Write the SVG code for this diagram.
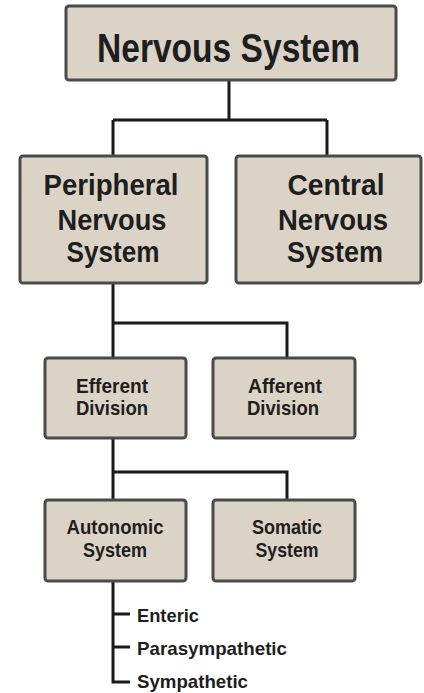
<svg xmlns="http://www.w3.org/2000/svg" width="424" height="693" viewBox="0 0 424 693">
<style>
.box{fill:#dbd3c6;stroke:#4a4a4a;stroke-width:3}
.sh{fill:#c8c8c8}
.t{font-family:"Liberation Sans",Arial,sans-serif;font-weight:bold;fill:#1e1e1e;text-anchor:middle}
.l{font-family:"Liberation Sans",Arial,sans-serif;font-weight:bold;fill:#1e1e1e}
.c{fill:none;stroke:#1a1a1a;stroke-width:3}
</style>
<rect width="424" height="693" fill="#fff"/>
<g id="connectors">
<path class="c" d="M229 80V120M113 120H327M113 120V155M327 120V155"/>
<path class="c" d="M113 283V323H287V357M113 323V357"/>
<path class="c" d="M113 438V472H287V499M113 472V499"/>
<path class="c" d="M113 581V682H130M113 614H130M113 647H130"/>
</g>
<g id="n-nervous">
<rect class="box" x="66" y="6" width="330" height="74" rx="3"/>
<text class="t" x="228.5" y="62" font-size="40" textLength="263" lengthAdjust="spacingAndGlyphs">Nervous System</text>
</g>
<g id="n-peripheral">
<rect class="box" x="20" y="156" width="187" height="127" rx="3"/>
<text class="t" x="111" y="195" font-size="29" textLength="135" lengthAdjust="spacingAndGlyphs">Peripheral</text>
<text class="t" x="112" y="230" font-size="29" textLength="109" lengthAdjust="spacingAndGlyphs">Nervous</text>
<text class="t" x="113" y="262" font-size="29" textLength="93" lengthAdjust="spacingAndGlyphs">System</text>
</g>
<g id="n-central">
<rect class="box" x="236" y="156" width="185" height="127" rx="3"/>
<text class="t" x="336" y="195" font-size="29" textLength="97" lengthAdjust="spacingAndGlyphs">Central</text>
<text class="t" x="333" y="230" font-size="29" textLength="110" lengthAdjust="spacingAndGlyphs">Nervous</text>
<text class="t" x="335" y="262" font-size="29" textLength="96" lengthAdjust="spacingAndGlyphs">System</text>
</g>
<g id="n-efferent">
<rect class="box" x="45" y="358" width="141" height="80" rx="3"/>
<text class="t" x="112" y="393" font-size="21" textLength="72" lengthAdjust="spacingAndGlyphs">Efferent</text>
<text class="t" x="112" y="415" font-size="21" textLength="72" lengthAdjust="spacingAndGlyphs">Division</text>
</g>
<g id="n-afferent">
<rect class="box" x="213" y="358" width="142" height="80" rx="3"/>
<text class="t" x="285" y="393" font-size="21" textLength="74" lengthAdjust="spacingAndGlyphs">Afferent</text>
<text class="t" x="283" y="415" font-size="21" textLength="72" lengthAdjust="spacingAndGlyphs">Division</text>
</g>
<g id="n-autonomic">
<rect class="box" x="45" y="500" width="141" height="81" rx="3"/>
<text class="t" x="115" y="534" font-size="21" textLength="97" lengthAdjust="spacingAndGlyphs">Autonomic</text>
<text class="t" x="115" y="557" font-size="21" textLength="64" lengthAdjust="spacingAndGlyphs">System</text>
</g>
<g id="n-somatic">
<rect class="box" x="213" y="500" width="142" height="81" rx="3"/>
<text class="t" x="287" y="534" font-size="21" textLength="70" lengthAdjust="spacingAndGlyphs">Somatic</text>
<text class="t" x="287" y="557" font-size="21" textLength="63" lengthAdjust="spacingAndGlyphs">System</text>
</g>
<g id="n-enteric"><text class="l" x="137" y="622" font-size="19" textLength="62" lengthAdjust="spacingAndGlyphs">Enteric</text></g>
<g id="n-parasympathetic"><text class="l" x="137" y="655" font-size="19" textLength="150" lengthAdjust="spacingAndGlyphs">Parasympathetic</text></g>
<g id="n-sympathetic"><text class="l" x="137" y="688" font-size="19" textLength="111" lengthAdjust="spacingAndGlyphs">Sympathetic</text></g>
</svg>
